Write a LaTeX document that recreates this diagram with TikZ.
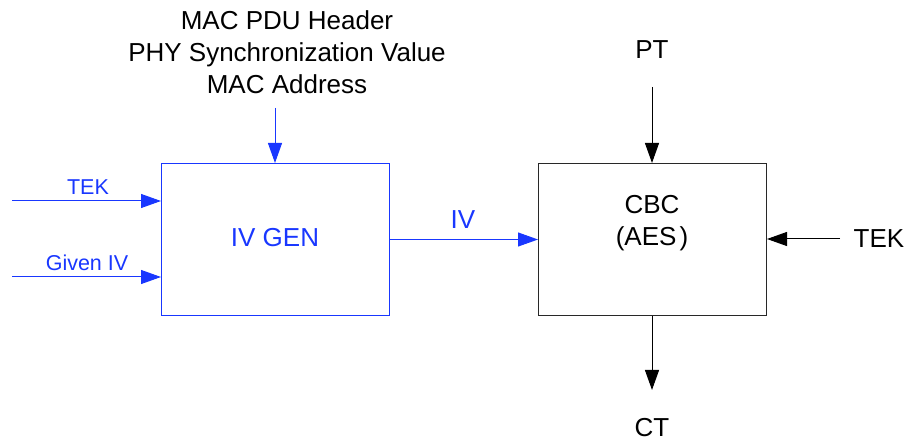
\documentclass[tikz,border=0pt]{standalone}
\usepackage{fontspec}
\setmainfont{Liberation Sans}
\usetikzlibrary{arrows.meta}
\definecolor{ivblue}{RGB}{25,55,255}
\definecolor{boxgray}{RGB}{40,40,40}
\begin{document}
\begin{tikzpicture}[x=1pt,y=-1pt,
  bigtxt/.style={font=\fontsize{26}{32}\selectfont, inner sep=0pt, align=center},
  smalltxt/.style={font=\fontsize{21.5}{26}\selectfont, inner sep=0pt, text=ivblue},
  blockbox/.style={draw, line width=1pt, minimum width=228pt, minimum height=152pt, inner sep=0pt, anchor=north west},
  arr/.style={line width=1pt, -{Triangle[length=20pt,width=14pt]}}
]
\useasboundingbox (0,0) rectangle (910,443);
% boxes
\node[blockbox, draw=ivblue] (gen) at (161,163) {};
\node[blockbox, draw=boxgray] (cbc) at (538,163) {};
\node[bigtxt, text=ivblue] (gentxt) at (275,238) {IV GEN};
\node[bigtxt] (cbctxt) at (652,223) {CBC\\(AES\hspace{0.12em})};
% texts
\node[bigtxt] (top) at (287,52) {MAC PDU Header\\PHY Synchronization Value\\MAC Address};
\node[bigtxt] (pt) at (652,50) {PT};
\node[bigtxt] (ct) at (652,428) {CT};
\node[bigtxt] (tekr) at (879,239) {TEK};
\node[bigtxt, text=ivblue] (iv) at (463,220) {IV};
\node[smalltxt] (tekl) at (88,187) {TEK};
\node[smalltxt] (given) at (87,263) {Given IV};
% coordinates
\coordinate (topS) at (275,108);
\coordinate (tekS) at (12,201);
\coordinate (givS) at (12,277);
\coordinate (ptS) at (652,87);
\coordinate (ctE) at (652,390);
\coordinate (tekrS) at (840,239);
% connectors
\draw[arr, ivblue] (topS) -- (topS |- gen.north);
\draw[arr, ivblue] (tekS) -- (tekS -| gen.west);
\draw[arr, ivblue] (givS) -- (givS -| gen.west);
\draw[arr, ivblue] (gen.east) -- (cbc.west);
\draw[arr, black] (ptS) -- (ptS |- cbc.north);
\draw[arr, black] (ctE |- cbc.south) -- (ctE);
\draw[arr, black] (tekrS) -- (tekrS -| cbc.east);
\end{tikzpicture}
\end{document}
